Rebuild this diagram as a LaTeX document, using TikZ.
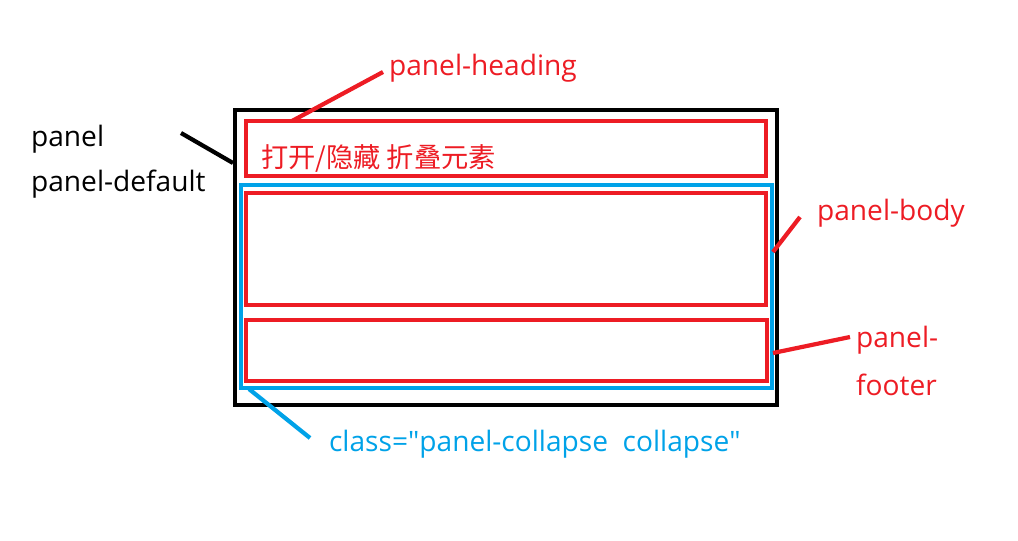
\documentclass[tikz,border=0pt]{standalone}
\usepackage{fontspec}
\setmainfont{Open Sans}
\newfontfamily\cjk{Noto Sans CJK SC}
\usetikzlibrary{fit}
\definecolor{paintred}{HTML}{ED1C24}
\definecolor{paintblue}{HTML}{00A2E8}

\begin{document}
\begin{tikzpicture}[x=0.02cm, y=-0.02cm, every path/.style={line width=2.4pt},
    box/.style={draw, inner sep=0pt, fit={#1}},
    lbl/.style={inner sep=0pt, anchor=west, font=\fontsize{16}{19}\selectfont}]
    \useasboundingbox (0,0) rectangle (1018,541);

    \node[box={(235,110) (777,405)}, draw=black] (panel) {};
    \node[box={(246,121) (766,176)}, draw=paintred] (heading) {};
    \node[box={(241,185) (772,388)}, draw=paintblue] (collapse) {};
    \node[box={(246,193) (766,305)}, draw=paintred] (body) {};
    \node[box={(246,320) (767,381)}, draw=paintred] (footer) {};

    \node[lbl, text=paintred] (title) at (259,158) {{\cjk\fontsize{15.5}{19}\selectfont 打开/隐藏 折叠元素}};

    \node[lbl] (panellbl) at (29,139) {panel};
    \node[lbl] (defaultlbl) at (29,184) {panel-default};
    \node[lbl, text=paintred] (headinglbl) at (387,68) {panel-heading};
    \node[lbl, text=paintred] (bodylbl) at (815,213) {panel-body};
    \node[lbl, text=paintred] (footerlbl) at (854,340) {panel-};
    \node[lbl, text=paintred] (footerlbl2) at (854,385) {footer};
    \node[lbl, text=paintblue] (collapselbl) at (327,444)
        {class=\textquotedbl panel-collapse\ \ collapse\textquotedbl};

    \coordinate (p1) at (181,133);
    \coordinate (p2) at (233,163);
    \coordinate (h1) at (292,121);
    \coordinate (h2) at (383,72);
    \coordinate (b1) at (773,252);
    \coordinate (b2) at (800,217);
    \coordinate (f1) at (773,353);
    \coordinate (f2) at (850,337);
    \coordinate (c1) at (249,389);
    \coordinate (c2) at (310,438);

    \draw[black] (p1) to (p2);
    \draw[paintred] (h1) to (h2);
    \draw[paintred] (b1) to (b2);
    \draw[paintred] (f1) to (f2);
    \draw[paintblue] (c1) to (c2);
\end{tikzpicture}
\end{document}
